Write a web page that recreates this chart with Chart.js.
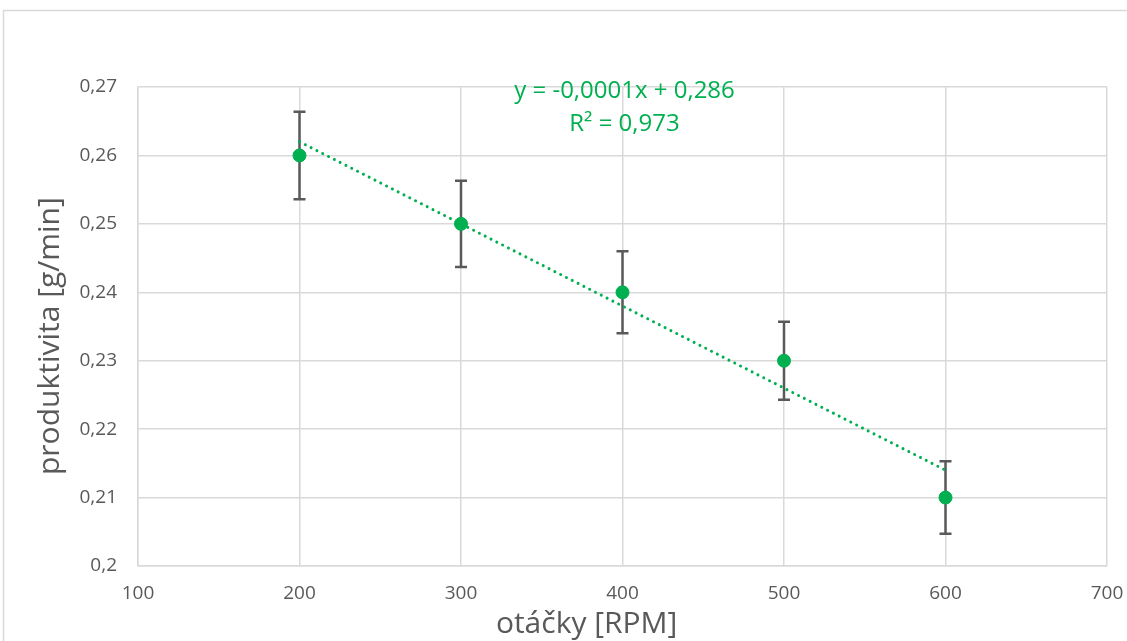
<!DOCTYPE html>
<html>
<head>
<meta charset="utf-8">
<title>Produktivita vs. otáčky</title>
<script src="https://cdn.jsdelivr.net/npm/chart.js@4.4.1/dist/chart.umd.min.js"></script>
<style>
  html, body { margin: 0; padding: 0; background: #fff; }
  #wrap { width: 1127px; height: 641px; }
</style>
</head>
<body>
<div id="wrap"><canvas id="chart" width="1127" height="641"></canvas></div>
<script>
// measured points
const rpm = [200, 300, 400, 500, 600];
const productivity = [0.26, 0.25, 0.24, 0.23, 0.21];
const errorPlusMinus = [0.0064, 0.0063, 0.006, 0.0057, 0.0053];

const xTicks = [100, 200, 300, 400, 500, 600, 700];
const yTicks = [0.2, 0.21, 0.22, 0.23, 0.24, 0.25, 0.26, 0.27];

const xTitle = "otáčky [RPM]";
const yTitle = "produktivita [g/min]";
const equationLines = ["y = -0,0001x + 0,286", "R² = 0,973"];

const green = "#00B050";
const gridColor = "#d9d9d9";
const textGray = "#595959";

// least squares fit for the trendline
const n = rpm.length;
const mx = rpm.reduce((a, b) => a + b, 0) / n;
const my = productivity.reduce((a, b) => a + b, 0) / n;
let sxy = 0, sxx = 0;
rpm.forEach((x, i) => {
    sxy += (x - mx) * (productivity[i] - my);
    sxx += (x - mx) * (x - mx);
});
const slope = sxy / sxx;
const intercept = my - slope * mx;
const trendX = [rpm[0], rpm[n - 1]];

const commaNum = (v) => String(Number(v.toFixed(4))).replace(".", ",");

// outer frame of the chart object
const framePlugin = {
    id: "frame",
    beforeDraw(chart) {
        const ctx = chart.ctx;
        ctx.save();
        ctx.fillStyle = "#fff";
        ctx.fillRect(0, 0, chart.width, chart.height);
        ctx.strokeStyle = gridColor;
        ctx.lineWidth = 1.5;
        ctx.strokeRect(3.5, 10.5, chart.width + 20, chart.height + 20);
        ctx.restore();
    }
};

// vertical error bars with caps
const errorBarPlugin = {
    id: "errorBars",
    beforeDatasetsDraw(chart) {
        const { ctx, scales: { x, y } } = chart;
        ctx.save();
        ctx.strokeStyle = "#595959";
        ctx.lineWidth = 2.5;
        rpm.forEach((r, i) => {
            const px = x.getPixelForValue(r);
            const top = y.getPixelForValue(productivity[i] + errorPlusMinus[i]);
            const bot = y.getPixelForValue(productivity[i] - errorPlusMinus[i]);
            ctx.beginPath();
            ctx.moveTo(px, top);
            ctx.lineTo(px, bot);
            ctx.moveTo(px - 6, top);
            ctx.lineTo(px + 6, top);
            ctx.moveTo(px - 6, bot);
            ctx.lineTo(px + 6, bot);
            ctx.stroke();
        });
        ctx.restore();
    }
};

// trendline equation and axis titles
const labelsPlugin = {
    id: "labels",
    afterDatasetsDraw(chart) {
        const { ctx, chartArea: a } = chart;
        const cx = a.left + (a.right - a.left) * 0.5;
        ctx.save();
        ctx.fillStyle = green;
        ctx.font = "24px 'Open Sans'";
        ctx.textAlign = "center";
        ctx.textBaseline = "middle";
        ctx.fillText(equationLines[0], cx + 2, a.top + 4);
        ctx.fillText(equationLines[1], cx + 2, a.top + 37);

        ctx.fillStyle = textGray;
        ctx.font = "30px 'Open Sans'";
        ctx.fillText(xTitle, a.left + (a.right - a.left) * 0.463, 624);
        ctx.translate(50, a.top + (a.bottom - a.top) * 0.52);
        ctx.rotate(-Math.PI / 2);
        ctx.fillText(yTitle, 0, 0);
        ctx.restore();
    }
};

new Chart(document.getElementById("chart"), {
    type: "scatter",
    data: {
        datasets: [
            {
                type: "line",
                label: "trend",
                data: trendX.map((v) => ({ x: v, y: intercept + slope * v })),
                borderColor: green,
                borderWidth: 3,
                borderDash: [0.01, 6.5],
                borderCapStyle: "round",
                pointRadius: 0,
                fill: false
            },
            {
                label: "produktivita",
                data: rpm.map((v, i) => ({ x: v, y: productivity[i] })),
                backgroundColor: green,
                borderColor: green,
                borderWidth: 1,
                pointRadius: 6.5
            }
        ]
    },
    options: {
        responsive: false,
        animation: false,
        layout: { padding: { top: 87, right: 20, left: 0, bottom: 0 } },
        plugins: {
            legend: { display: false },
            tooltip: { enabled: false }
        },
        scales: {
            x: {
                type: "linear",
                min: 100,
                max: 700,
                afterBuildTicks: (axis) => { axis.ticks = xTicks.map((v) => ({ value: v })); },
                afterFit: (axis) => {
                    axis.height = 75;
                    axis.paddingLeft = 0;
                    axis.paddingRight = 0;
                },
                grid: { color: gridColor, lineWidth: 1.5, drawTicks: false },
                border: { color: gridColor, width: 1.5 },
                ticks: {
                    color: textGray,
                    font: { family: "Open Sans", size: 19 },
                    padding: 16
                }
            },
            y: {
                min: 0.2,
                max: 0.27,
                afterBuildTicks: (axis) => { axis.ticks = yTicks.map((v) => ({ value: v })); },
                afterFit: (axis) => {
                    axis.width = 138;
                    axis.paddingTop = 0;
                    axis.paddingBottom = 0;
                },
                grid: { color: gridColor, lineWidth: 1.5, drawTicks: false },
                border: { color: gridColor, width: 1.5 },
                ticks: {
                    color: textGray,
                    font: { family: "Open Sans", size: 19 },
                    padding: 21,
                    callback: (v) => commaNum(v)
                }
            }
        }
    },
    plugins: [framePlugin, errorBarPlugin, labelsPlugin]
});
</script>
</body>
</html>
